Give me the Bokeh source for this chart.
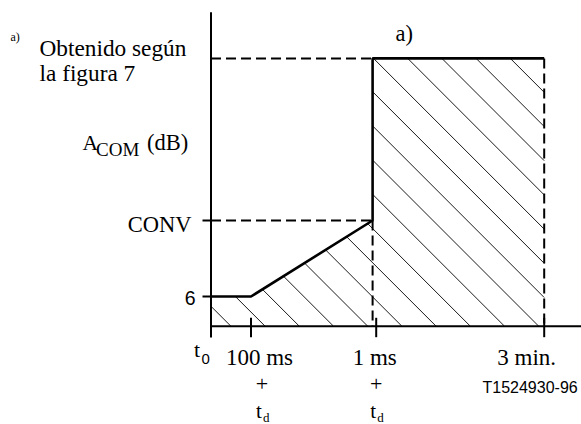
from bokeh.plotting import figure
from bokeh.models import Range1d, Label
from bokeh.embed import file_html
from bokeh.resources import INLINE

# schematic time positions on the x axis (t0 = 0)
tick_names = ["t0", "100 ms", "1 ms", "3 min."]
tick_pos = [0.0, 1.0, 4.13, 8.33]
# schematic levels (dB)
level_names = ["6", "CONV"]
level_vals = [6.0, 21.35]
top_level = 54.1
y_axis_top = 63.4
# limit curve
curve_x = [0.0, 1.0, 4.04, 4.04, 8.33]
curve_y = [6.0, 6.0, 21.35, 54.1, 54.1]

SERIF = "Liberation Serif"
SANS = "Liberation Sans"
W, H = 581, 424
OX, OY = 210.5, 325.7   # pixel position of the origin
XPX, YPX = 40.0, 4.95   # pixels per unit
HATCH_STEP, HATCH_PHASE = 34.2, 7.3  # hatch spacing / phase, pixels

p = figure(width=W, height=H, output_backend="svg", toolbar_location=None,
           title=None, min_border=0, x_axis_location=None, y_axis_location=None,
           x_range=Range1d(-OX / XPX, (W - OX) / XPX),
           y_range=Range1d(-(H - OY) / YPX, OY / YPX))
p.outline_line_color = None
p.grid.visible = False
p.background_fill_color = "white"
p.border_fill_color = "white"

x_end = (W - OX) / XPX


def curve_at(x):
    """value of the limit curve (upper envelope) at data x"""
    if x >= curve_x[2]:
        return curve_y[3]
    for i in range(2):
        if curve_x[i] <= x <= curve_x[i + 1]:
            t = (x - curve_x[i]) / (curve_x[i + 1] - curve_x[i])
            return curve_y[i] + t * (curve_y[i + 1] - curve_y[i])
    return curve_y[0]


# 45-degree hatch lines (screen direction "\") clipped to the area below the curve
hx0, hy0, hx1, hy1 = [], [], [], []
xa, xb = curve_x[0], curve_x[-1]
for k in range(-6, 20):
    c = HATCH_PHASE + k * HATCH_STEP          # px - py = c on screen

    def line_y(x):                              # data y of the hatch line at data x
        px = OX + x * XPX
        return (OY - (px - c)) / YPX

    def g(x):
        return curve_at(x) - line_y(x)          # >= 0 inside (line below curve)

    # exit point: where the line reaches y = 0 or the right edge
    x_exit = min(xb, (c + OY - OX) / XPX)
    if x_exit <= xa:
        continue
    # entry point: first x where the line is below the curve
    if g(xa) >= 0:
        x_in = xa
    elif g(x_exit) < 0:
        continue
    else:
        lo, hi = xa, x_exit
        for _ in range(60):
            mid = 0.5 * (lo + hi)
            if g(mid) >= 0:
                hi = mid
            else:
                lo = mid
        x_in = hi
    if x_exit - x_in < 1e-6:
        continue
    hx0.append(x_in)
    hy0.append(min(line_y(x_in), curve_at(x_in)))
    hx1.append(x_exit)
    hy1.append(max(line_y(x_exit), 0.0))

p.segment(x0=hx0, y0=hy0, x1=hx1, y1=hy1, line_color="#1a1a1a", line_width=1)

# axes
p.segment(x0=[0, 0], y0=[0, -11.3 / YPX], x1=[x_end, 0], y1=[0, y_axis_top],
          line_color="black", line_width=2)
# x ticks
p.segment(x0=tick_pos[1:], y0=[-11 / YPX] * 3, x1=tick_pos[1:], y1=[8.4 / YPX] * 3,
          line_color="black", line_width=2)
# y ticks
p.segment(x0=[-8.5 / XPX] * 2, y0=level_vals, x1=[0, 0], y1=level_vals,
          line_color="black", line_width=2)

# dashed guide lines
p.segment(x0=[0, 0, curve_x[2], curve_x[-1]],
          y0=[level_vals[1], top_level, level_vals[1], top_level],
          x1=[curve_x[2], curve_x[2], curve_x[2], curve_x[-1]],
          y1=[level_vals[1], top_level, 0, 0],
          line_color="black", line_width=2, line_dash="10 5")

# the limit curve
p.line(curve_x, curve_y, line_color="black", line_width=2.6)


def lab(text, x, y, size, font=SERIF, align="left", xunits="screen", xoff=0):
    yb = y - 0.31 * size  # compensate the renderer's baseline shift
    p.add_layout(Label(x=x, y=H - yb, x_units=xunits, y_units="screen", text=text,
                       text_font=font, text_font_size=f"{size}px", text_align=align,
                       text_baseline="alphabetic", text_color="black", x_offset=xoff))


lab("a)", 10, 40, 12)
lab("Obtenido según", 39, 54.5, 23.3)
lab("la figura 7", 39, 79.5, 23.3)
lab("A", 82, 149.5, 21.5)
lab("COM", 95.5, 155, 19)
lab("(dB)", 146.5, 149, 22.5)
lab(level_names[1], 191, 231, 22.5, align="right")
lab(level_names[0], 195, 304, 19.5, font=SANS, align="right")
lab("a)", 395, 40, 22.5)

# x tick labels
lab("t", tick_pos[0], 356, 22, xunits="data", xoff=-17)
lab("0", tick_pos[0], 363, 15, font=SANS, xunits="data", xoff=-9.5)
lab(tick_names[1], tick_pos[1], 364, 23, align="center", xunits="data", xoff=8.5)
lab(tick_names[2], tick_pos[2], 364, 23, align="center", xunits="data", xoff=-1.5)
lab(tick_names[3], tick_pos[3], 364, 23, align="center", xunits="data", xoff=-17.5)
for tp, dx in ((tick_pos[1], 11), (tick_pos[2], 0)):
    lab("+", tp, 390.5, 22, align="center", xunits="data", xoff=dx)
    lab("t", tp, 417, 21, xunits="data", xoff=dx - 6)
    lab("d", tp, 421, 13, xunits="data", xoff=dx + 1)

lab("T1524930-96", 482, 392, 16, font=SANS)

open("out.html", "w").write(file_html(p, INLINE))
